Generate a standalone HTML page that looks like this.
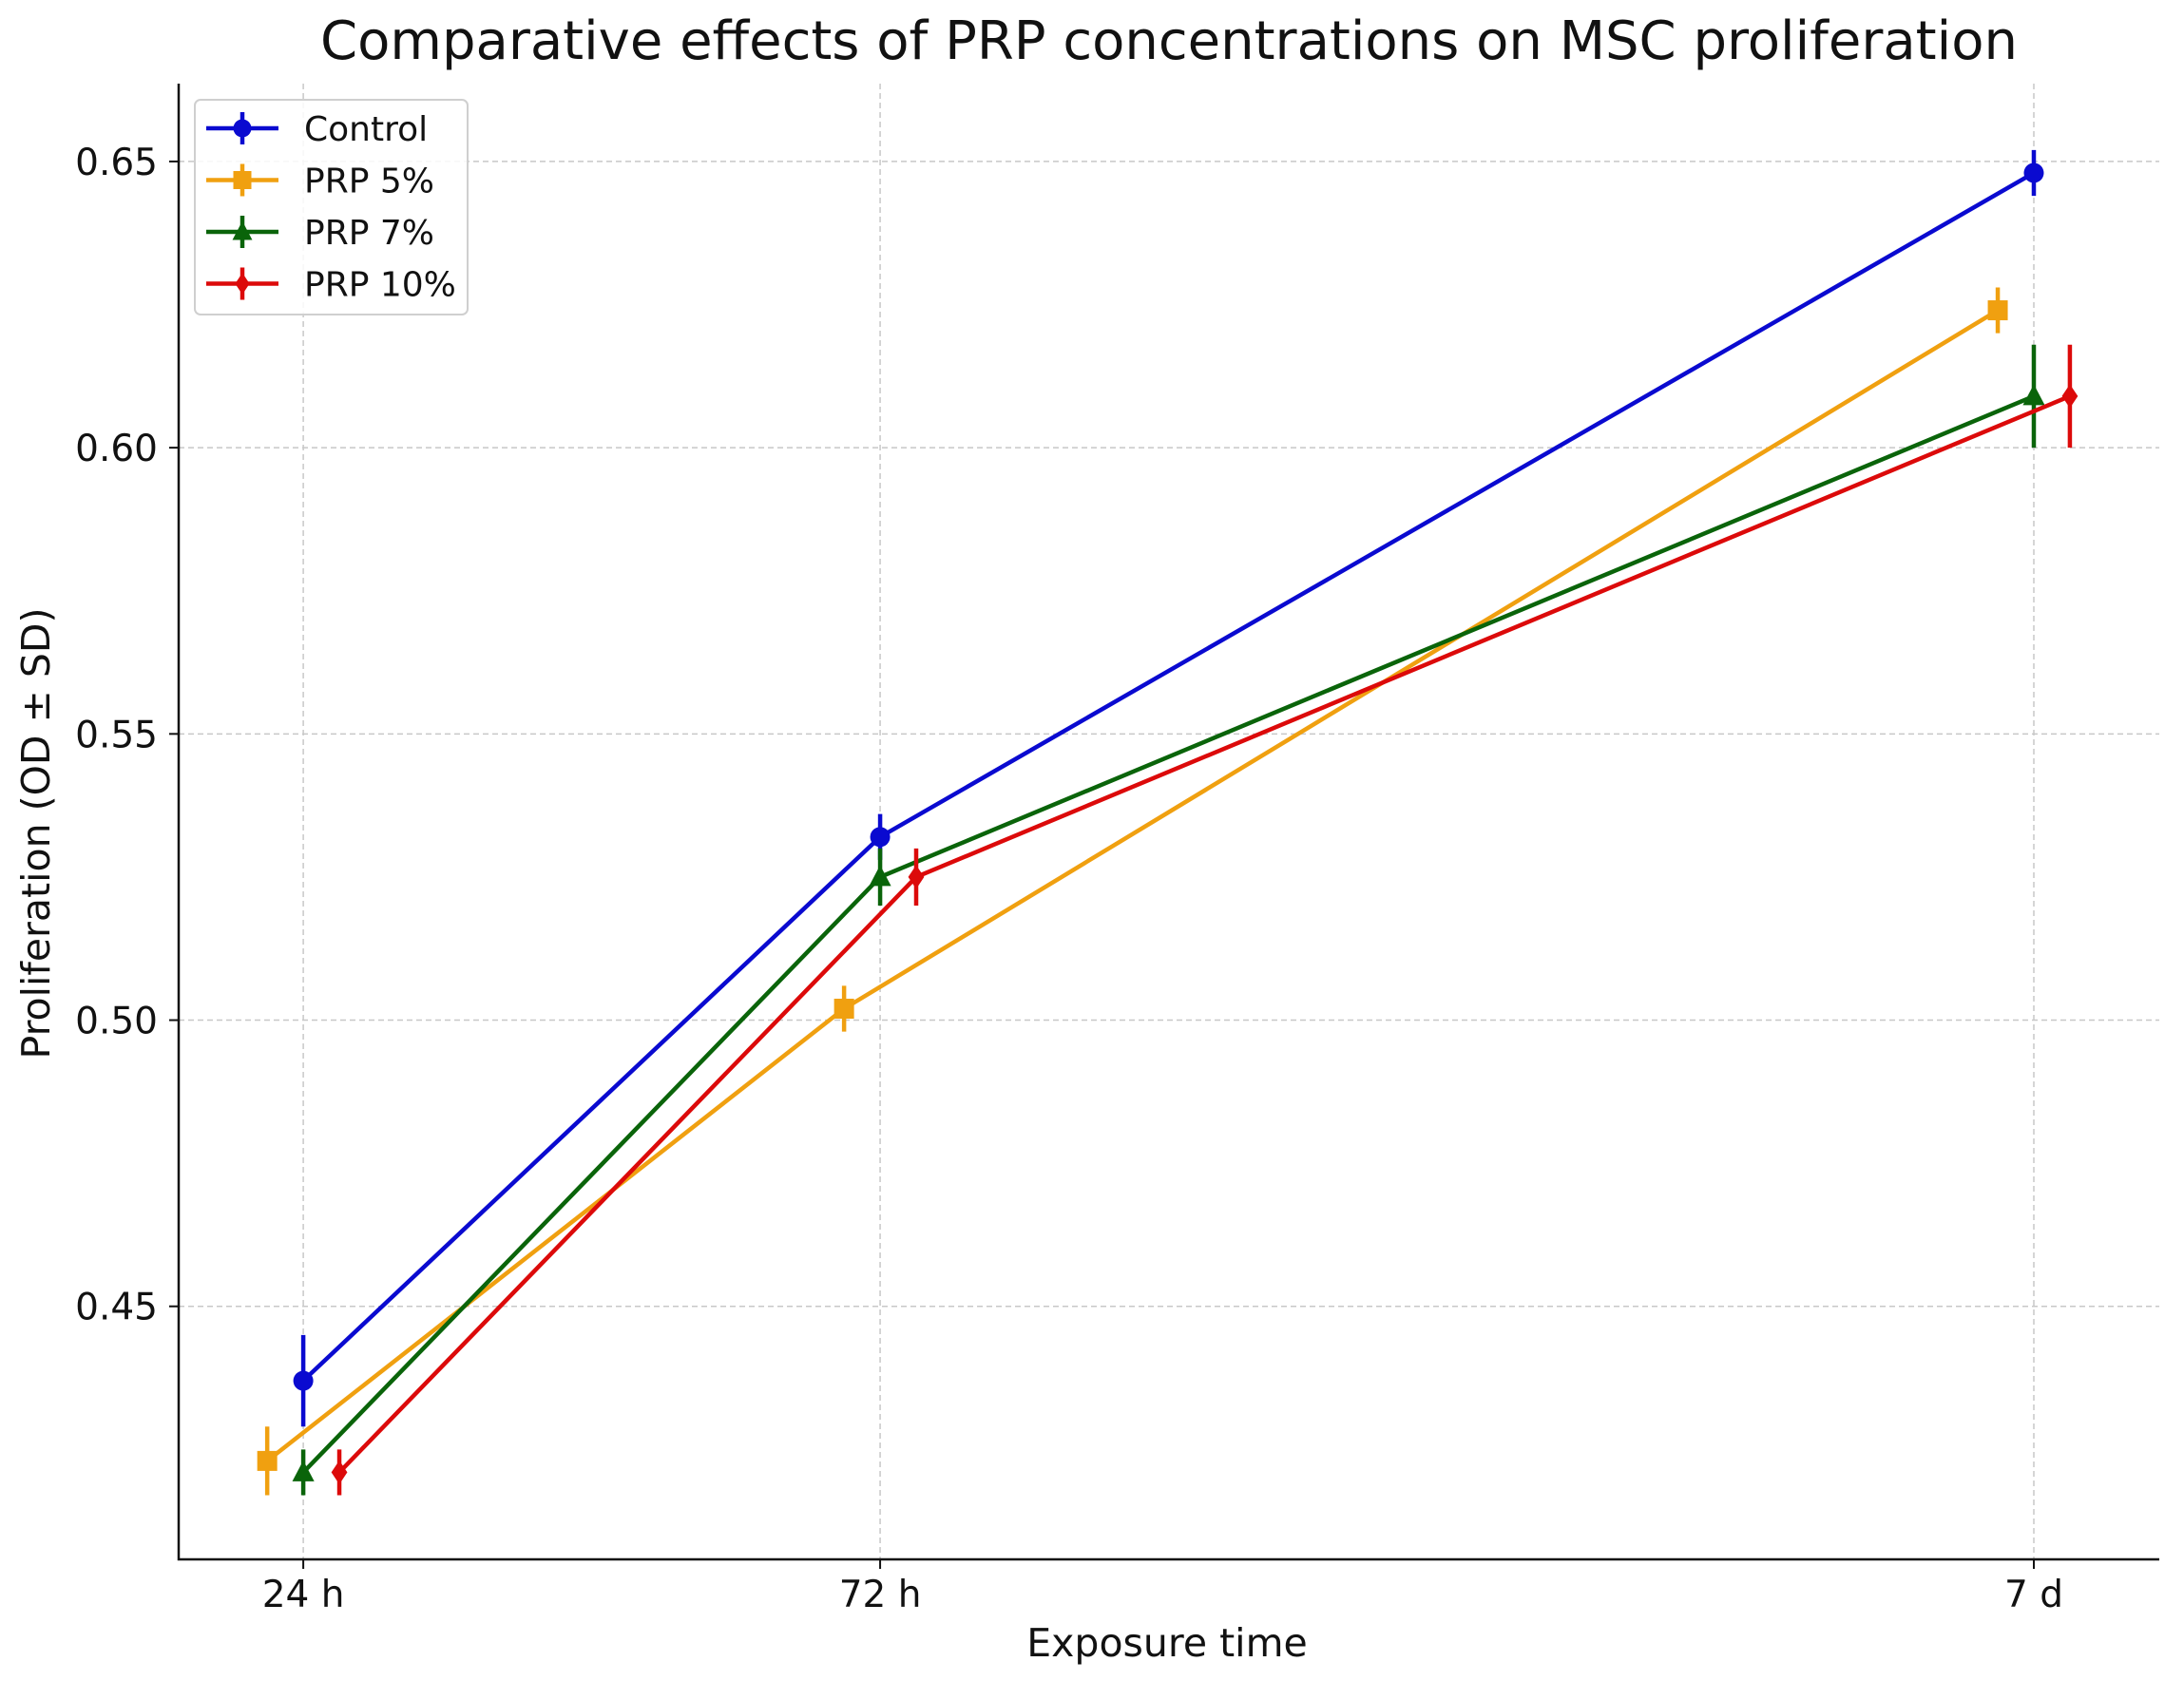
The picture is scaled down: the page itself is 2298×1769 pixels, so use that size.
<!DOCTYPE html>
<html><head><meta charset="utf-8"><style>
html,body{margin:0;padding:0;background:#fff;}
svg{display:block;font-family:"DejaVu Sans","Liberation Sans",sans-serif;}
</style></head><body>
<svg id="chart" width="2298" height="1769" viewBox="0 0 2298 1769" xmlns="http://www.w3.org/2000/svg">
<rect width="2298" height="1769" fill="#fff"/>
<text x="1230" y="62" text-anchor="middle" font-size="56" fill="#111">Comparative effects of PRP concentrations on MSC proliferation</text>
<g id="grid"></g>
<g id="series"></g>
<g id="axes"></g>
<text x="1228" y="1743" text-anchor="middle" font-size="41" fill="#111">Exposure time</text>
<text transform="translate(52,877) rotate(-90)" text-anchor="middle" font-size="41" fill="#111">Proliferation (OD ± SD)</text>
<g id="legend"></g>
</svg>
<script>
const categories = ["24 h", "72 h", "7 d"];
const categoryDays = [1, 3, 7];
const seriesNames = ["Control", "PRP 5%", "PRP 7%", "PRP 10%"];
const controlValues = [0.437, 0.532, 0.648];
const controlErrors = [0.008, 0.004, 0.004];
const prp5Values = [0.423, 0.502, 0.624];
const prp5Errors = [0.006, 0.004, 0.004];
const prp7Values = [0.421, 0.525, 0.609];
const prp7Errors = [0.004, 0.005, 0.009];
const prp10Values = [0.421, 0.525, 0.609];
const prp10Errors = [0.004, 0.005, 0.009];
const seriesOffsets = [0, -0.125, 0, 0.125];
const yTicks = [0.45, 0.50, 0.55, 0.60, 0.65];
const yTickLabels = ["0.45", "0.50", "0.55", "0.60", "0.65"];

const NS = "http://www.w3.org/2000/svg";
const L = 188, R = 2272, T = 88, B = 1641;
const xMin = 0.568, xMax = 7.435, yMin = 0.4058, yMax = 0.6636;
const xs = d => L + (d - xMin) / (xMax - xMin) * (R - L);
const ys = v => B - (v - yMin) / (yMax - yMin) * (B - T);
function mk(tag, attrs, parent) {
  const e = document.createElementNS(NS, tag);
  for (const k in attrs) e.setAttribute(k, attrs[k]);
  parent.appendChild(e);
  return e;
}
const grid = document.getElementById("grid");
const axes = document.getElementById("axes");
const series = document.getElementById("series");
const legend = document.getElementById("legend");

yTicks.forEach((t, i) => {
  const y = ys(t);
  const g = mk("line", {x1: L, x2: R, y1: y, y2: y, stroke: "#c8c8c8", "stroke-width": 1.5, "stroke-dasharray": "6,4"}, grid);
  
  
  const tk = mk("line", {x1: L - 10, x2: L, y1: y, y2: y, stroke: "#111", "stroke-width": 2}, axes);
  
  
  const tx = mk("text", {x: L - 22, y: y + 14, "text-anchor": "end", "font-size": 39, fill: "#111"}, axes);
  tx.textContent = yTickLabels[i];
  
  
});
categories.forEach((c, i) => {
  const x = xs(categoryDays[i]);
  const g = mk("line", {x1: x, x2: x, y1: T, y2: B, stroke: "#c8c8c8", "stroke-width": 1.5, "stroke-dasharray": "6,4"}, grid);
  
  
  const tk = mk("line", {x1: x, x2: x, y1: B, y2: B + 10, stroke: "#111", "stroke-width": 2}, axes);
  
  
  const tx = mk("text", {x: x, y: B + 50, "text-anchor": "middle", "font-size": 39, fill: "#111"}, axes);
  tx.textContent = c;
  
  
});
const ax = mk("path", {d: `M${L},${T} V${B} H${R}`, fill: "none", stroke: "#111", "stroke-width": 2.5}, axes);



const colors = ["#0a0ad0", "#f0a010", "#0a640a", "#dc0a0a"];
const markers = ["circle", "square", "triangle", "diamond"];
const allVals = [controlValues, prp5Values, prp7Values, prp10Values];
const allErrs = [controlErrors, prp5Errors, prp7Errors, prp10Errors];

function marker(type, x, y, color, parent, s) {
  let m;
  if (type === "circle") m = mk("circle", {cx: x, cy: y, r: s, fill: color}, parent);
  else if (type === "square") m = mk("rect", {x: x - s, y: y - s, width: 2 * s, height: 2 * s, fill: color}, parent);
  else if (type === "triangle") m = mk("polygon", {points: `${x},${y - s * 1.2} ${x - s * 1.1},${y + s * 0.9} ${x + s * 1.1},${y + s * 0.9}`, fill: color}, parent);
  else m = mk("polygon", {points: `${x},${y - s * 1.2} ${x + s * 0.8},${y} ${x},${y + s * 1.2} ${x - s * 0.8},${y}`, fill: color}, parent);
  return m;
}

allVals.forEach((vals, si) => {
  const g = mk("g", {}, series);
  
  
  const pts = vals.map((v, i) => [xs(categoryDays[i] + seriesOffsets[si]), ys(v)]);
  const ln = mk("polyline", {points: pts.map(p => p.join(",")).join(" "), fill: "none", stroke: colors[si], "stroke-width": 4.5}, g);
  
  
  vals.forEach((v, i) => {
    const x = pts[i][0], e = allErrs[si][i];
    const eb = mk("line", {x1: x, x2: x, y1: ys(v + e), y2: ys(v - e), stroke: colors[si], "stroke-width": 4.5}, g);
    
    
    const m = marker(markers[si], x, pts[i][1], colors[si], g, 10.5);
    
    
  });
});

const box = mk("rect", {x: 205, y: 105, width: 287, height: 226, rx: 6, fill: "#fff", "fill-opacity": 0.85, stroke: "#cfcfcf", "stroke-width": 2}, legend);


seriesNames.forEach((n, si) => {
  const y = 135 + si * 54.5;
  const g = mk("g", {}, legend);
  
  
  mk("line", {x1: 217, x2: 293, y1: y, y2: y, stroke: colors[si], "stroke-width": 4.5}, g);
  mk("line", {x1: 255, x2: 255, y1: y - 17, y2: y + 17, stroke: colors[si], "stroke-width": 4.5}, g);
  marker(markers[si], 255, y, colors[si], g, 9.5);
  const t = mk("text", {x: 320, y: y + 13, "font-size": 36, fill: "#111"}, g);
  t.textContent = n;
});
</script>
</body></html>
